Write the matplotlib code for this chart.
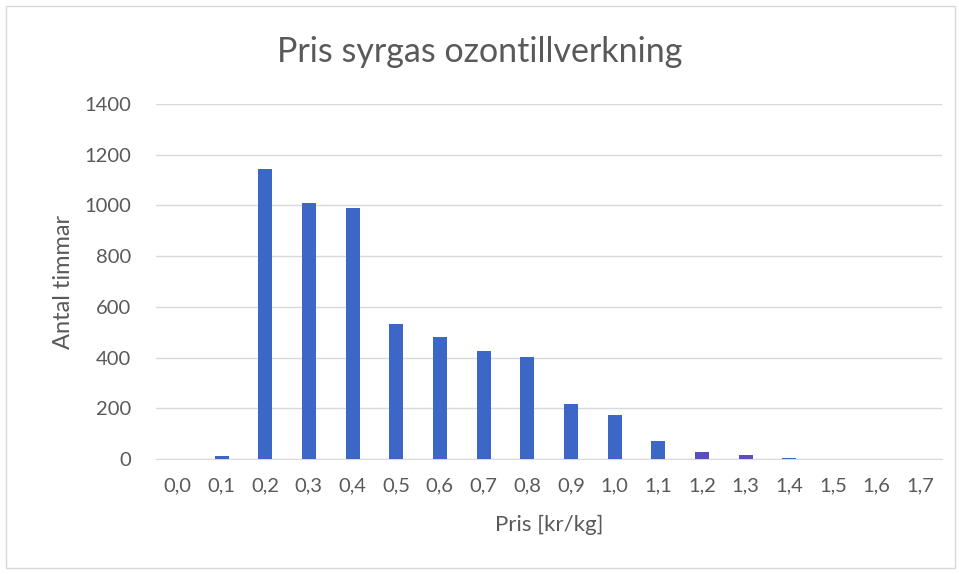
import matplotlib
matplotlib.use("Agg")
from matplotlib import pyplot as plt
from matplotlib.patches import Rectangle
import numpy as np

# price bins (kr/kg) and hours per bin
prices = ["0,0", "0,1", "0,2", "0,3", "0,4", "0,5", "0,6", "0,7", "0,8",
          "0,9", "1,0", "1,1", "1,2", "1,3", "1,4", "1,5", "1,6", "1,7"]
hours = [0, 10, 1142, 1010, 991, 533, 482, 425, 403,
         218, 173, 70, 29, 15, 4, 2, 1, 0]
y_ticks = [0, 200, 400, 600, 800, 1000, 1200, 1400]

plt.rcParams['font.family'] = ['Lato', 'DejaVu Sans']
grey = "#595959"

fig = plt.figure(figsize=(9.59, 5.74), dpi=100)
ax = fig.add_axes([0.1627, 0.2003, 0.8196, 0.6185])

x = np.arange(len(prices))
bar_colors = ["#3d67c6"] * len(prices)
bar_colors[12] = "#5a4dc2"
bar_colors[13] = "#5a4dc2"
ax.bar(x, hours, width=0.32, color=bar_colors, zorder=3)

ax.set_xlim(-0.5, len(prices) - 0.5)
ax.set_ylim(0, 1400)
ax.set_yticks(y_ticks)
ax.set_yticklabels([str(v) for v in y_ticks])
ax.set_xticks(x)
ax.set_xticklabels(prices)
ax.tick_params(axis="both", length=0, labelsize=14.5, colors=grey)
ax.tick_params(axis="x", pad=13)
ax.tick_params(axis="y", pad=18)
ax.grid(axis="y", color="#d9d9d9", linewidth=1, zorder=0)
for side in ["top", "right", "left"]:
    ax.spines[side].set_visible(False)
ax.spines["bottom"].set_color("#d9d9d9")

ax.set_xlabel("Pris [kr/kg]", fontsize=16, color=grey, labelpad=15)
ax.set_ylabel("Antal timmar", fontsize=17, color=grey, labelpad=7)
fig.suptitle("Pris syrgas ozontillverkning", fontsize=24.5, color=grey, y=0.937)

fig.patches.append(Rectangle((0.006, 0.01), 0.99, 0.98, transform=fig.transFigure,
                             fill=False, edgecolor="#d9d9d9", linewidth=1))

fig.savefig("out.png", dpi=100)
